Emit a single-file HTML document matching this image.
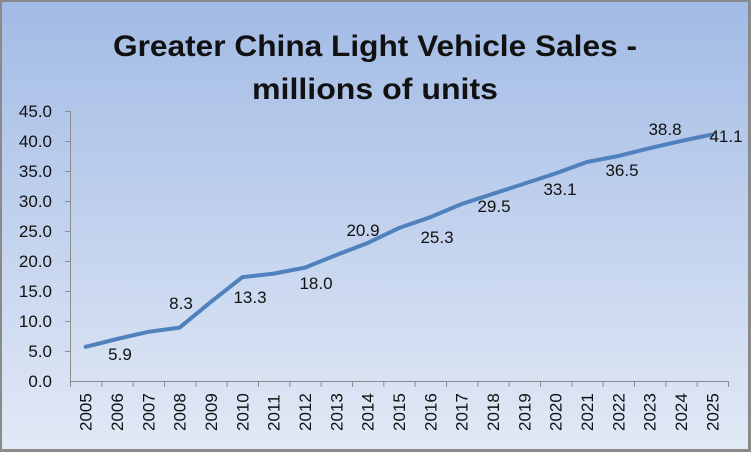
<!DOCTYPE html>
<html><head><style>
html,body{margin:0;padding:0;}
body{width:751px;height:452px;overflow:hidden;}
</style></head><body>
<svg width="751" height="452" xmlns="http://www.w3.org/2000/svg" font-family="Liberation Sans, sans-serif">
<defs><linearGradient id="g" x1="0" y1="0" x2="0" y2="1">
<stop offset="0" stop-color="#a2bbe5"/><stop offset="1" stop-color="#e2e9f6"/></linearGradient></defs>
<rect x="0" y="0" width="751" height="452" fill="#8a8a8a"/>
<rect x="2" y="2" width="746" height="447" fill="url(#g)"/>
<text x="375" y="56" text-anchor="middle" font-size="30" font-weight="bold" fill="#111" textLength="524" lengthAdjust="spacingAndGlyphs">Greater China Light Vehicle Sales -</text>
<text x="375" y="99" text-anchor="middle" font-size="30" font-weight="bold" fill="#111" textLength="246" lengthAdjust="spacingAndGlyphs">millions of units</text>
<g stroke="#8c8c8c" stroke-width="1">
<line x1="70.5" y1="111" x2="70.5" y2="381"/>
<line x1="70" y1="381.5" x2="729" y2="381.5"/>
</g>
<g id="yt" font-size="17" fill="#111" text-anchor="end">
<text x="52" y="117">45.0</text><text x="52" y="147">40.0</text><text x="52" y="177">35.0</text>
<text x="52" y="207">30.0</text><text x="52" y="237">25.0</text><text x="52" y="267">20.0</text>
<text x="52" y="297">15.0</text><text x="52" y="327">10.0</text><text x="52" y="357">5.0</text>
<text x="52" y="387">0.0</text>
</g>
<g stroke="#8c8c8c" id="ticks"></g>
<g id="xl" font-size="17" fill="#111"></g>
<polyline fill="none" stroke="#4f81bd" stroke-width="4" stroke-linejoin="round" stroke-linecap="round" id="ln"/>
<g font-size="17" fill="#111" text-anchor="middle">
<text x="120" y="360">5.9</text><text x="181" y="309">8.3</text><text x="250" y="303">13.3</text>
<text x="316" y="289">18.0</text><text x="363" y="236">20.9</text><text x="437" y="243">25.3</text>
<text x="494" y="212">29.5</text><text x="560" y="195">33.1</text><text x="622" y="176">36.5</text>
<text x="665" y="135">38.8</text><text x="726" y="142">41.1</text>
</g>
</svg>
<script>
var v=[5.7,7.0,8.2,8.9,13.2,17.3,17.9,18.9,21.0,23.0,25.5,27.3,29.5,31.2,32.9,34.6,36.5,37.5,38.8,40.0,41.1];
var sp=(728-70)/21,pts=[],tk='',xl='',yt='';
for(var i=0;i<=21;i++){var x=70.5+sp*i;tk+='<line x1="'+x+'" y1="381" x2="'+x+'" y2="387"/>';}
for(var i=0;i<9;i++){var y=111.5+30*i;yt+='<line x1="65" y1="'+y+'" x2="70" y2="'+y+'"/>';}
for(var i=0;i<21;i++){var x=70+sp*(i+0.5);pts.push(x+','+(381-v[i]*6));
xl+='<text transform="translate('+(x+6)+',431) rotate(-90)">'+(2005+i)+'</text>';}
document.getElementById('ticks').innerHTML=tk+yt;
document.getElementById('xl').innerHTML=xl;
document.getElementById('ln').setAttribute('points',pts.join(' '));
</script>
</body></html>
